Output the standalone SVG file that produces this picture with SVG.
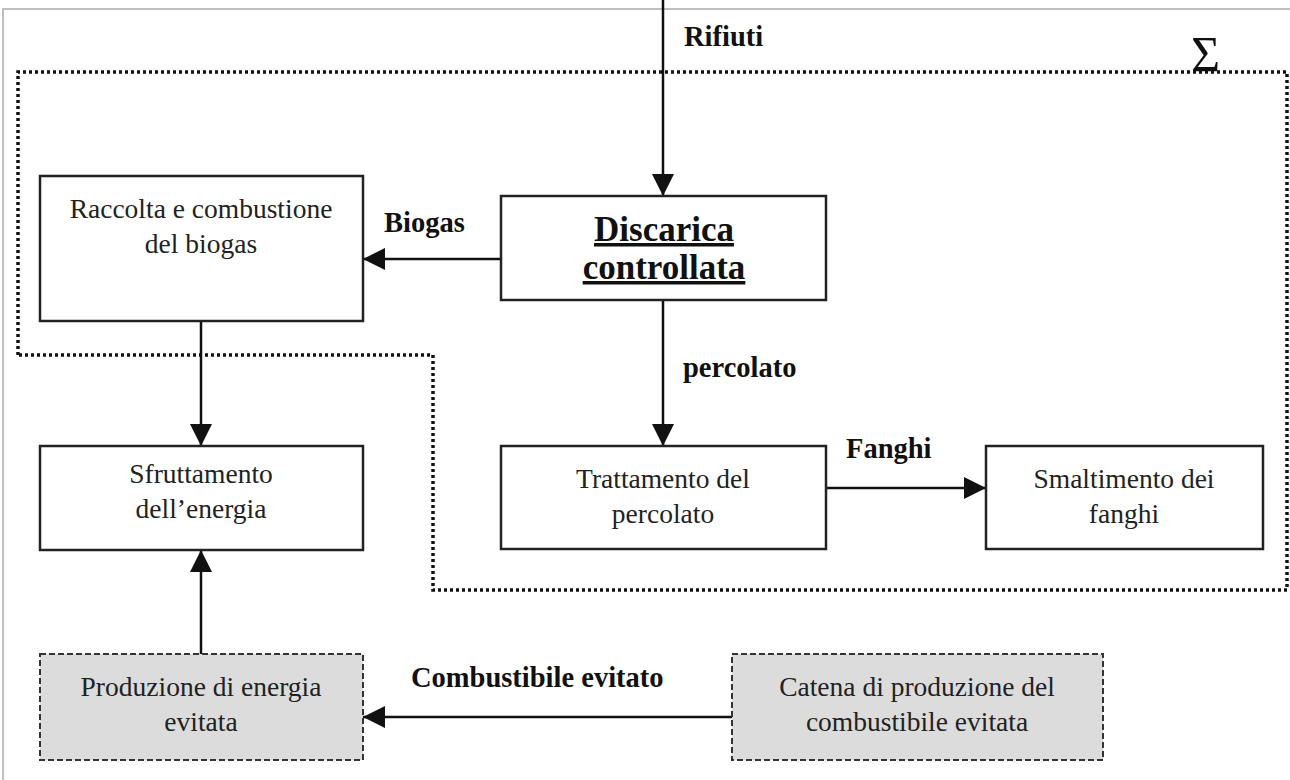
<svg xmlns="http://www.w3.org/2000/svg" width="1290" height="780" viewBox="0 0 1290 780">
<style>
.box{fill:#fff;stroke:#222;stroke-width:2.5}
.gbox{fill:#dcdcdc;stroke:#333;stroke-width:2;stroke-dasharray:6 3}
.t{font-family:"Liberation Serif",serif;font-size:27.5px;fill:#222;text-anchor:middle}
.d{font-family:"Liberation Serif",serif;font-size:35px;font-weight:bold;fill:#111;text-anchor:middle;text-decoration:underline}
.b{font-family:"Liberation Serif",serif;font-size:28.5px;font-weight:bold;fill:#111}
.ln{stroke:#111;stroke-width:2.5;fill:none}
</style>
<defs>
<marker id="ah" viewBox="0 0 10 10" refX="10" refY="5" markerWidth="22" markerHeight="22" markerUnits="userSpaceOnUse" orient="auto">
<path d="M0,0 L10,5 L0,10 z" fill="#111"/>
</marker>
</defs>
<rect width="1290" height="780" fill="#fff"/>
<path d="M3,780 V9 H1290" fill="none" stroke="#aaa" stroke-width="1.5"/>
<g id="boundary">
<path d="M18,355 V72 H1287 V590 H433 V355 Z" fill="none" stroke="#111" stroke-width="3.5" stroke-dasharray="3 3"/>
<text x="1191" y="71" font-family="Liberation Serif,serif" font-size="50" fill="#111">Σ</text>
</g>
<g id="connectors">
<line class="ln" x1="663" y1="0" x2="663" y2="196" marker-end="url(#ah)"/>
<text class="b" x="684" y="46">Rifiuti</text>
<line class="ln" x1="501" y1="259" x2="363" y2="259" marker-end="url(#ah)"/>
<text class="b" x="384" y="232">Biogas</text>
<line class="ln" x1="201" y1="321" x2="201" y2="446" marker-end="url(#ah)"/>
<line class="ln" x1="663" y1="300" x2="663" y2="446" marker-end="url(#ah)"/>
<text class="b" x="683" y="377">percolato</text>
<line class="ln" x1="826" y1="488" x2="986" y2="488" marker-end="url(#ah)"/>
<text class="b" x="846" y="458">Fanghi</text>
<line class="ln" x1="201" y1="654" x2="201" y2="550" marker-end="url(#ah)"/>
<line class="ln" x1="732" y1="717" x2="363" y2="717" marker-end="url(#ah)"/>
<text class="b" x="411" y="687">Combustibile evitato</text>
</g>
<g id="raccolta">
<rect class="box" x="40" y="176" width="323" height="145"/>
<text class="t" x="201" y="218">Raccolta e combustione</text>
<text class="t" x="201" y="253">del biogas</text>
</g>
<g id="discarica">
<rect class="box" x="501" y="196" width="325" height="104"/>
<text class="d" x="664" y="241">Discarica</text>
<text class="d" x="664" y="279">controllata</text>
</g>
<g id="sfruttamento">
<rect class="box" x="40" y="446" width="323" height="104"/>
<text class="t" x="201" y="483">Sfruttamento</text>
<text class="t" x="201" y="518">dell’energia</text>
</g>
<g id="trattamento">
<rect class="box" x="501" y="446" width="325" height="103"/>
<text class="t" x="663" y="488">Trattamento del</text>
<text class="t" x="663" y="523">percolato</text>
</g>
<g id="smaltimento">
<rect class="box" x="986" y="446" width="277" height="103"/>
<text class="t" x="1124" y="488">Smaltimento dei</text>
<text class="t" x="1124" y="523">fanghi</text>
</g>
<g id="produzione">
<rect class="gbox" x="40" y="654" width="323" height="106"/>
<text class="t" x="201" y="696">Produzione di energia</text>
<text class="t" x="201" y="731">evitata</text>
</g>
<g id="catena">
<rect class="gbox" x="732" y="654" width="371" height="106"/>
<text class="t" x="917" y="696">Catena di produzione del</text>
<text class="t" x="917" y="731">combustibile evitata</text>
</g>
</svg>
